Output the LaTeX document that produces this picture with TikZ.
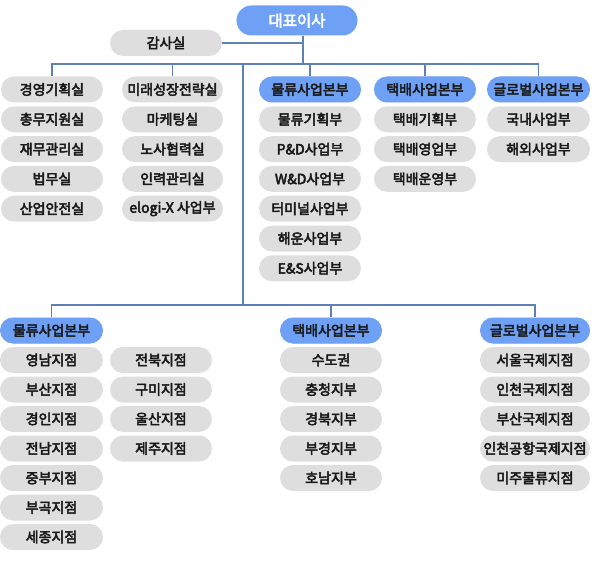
\documentclass[tikz,border=0pt]{standalone}
\usepackage{fontspec}
\setmainfont{Noto Sans CJK KR}[BoldFont={Noto Sans CJK KR}, BoldFeatures={FakeBold=3.5}]
\usetikzlibrary{shapes.misc}
\definecolor{hblue}{RGB}{110,160,245}
\definecolor{bgray}{RGB}{222,222,222}
\definecolor{lineblue}{RGB}{95,128,180}
\definecolor{txt}{RGB}{25,25,25}
\tikzset{
  box/.style={rounded rectangle, fill=bgray, minimum height=26pt, inner sep=0pt, text=txt, font=\bfseries\fontsize{14}{14}\selectfont},
  head/.style={box, fill=hblue},
  ceobox/.style={box, fill=hblue, text=white, minimum width=121pt, minimum height=30pt, font=\bfseries\fontsize{15.5}{15.5}\selectfont},
  conn/.style={draw=lineblue, line width=1.1pt},
}
\begin{document}
\begin{tikzpicture}[x=1pt,y=-1pt]
\useasboundingbox (0,0) rectangle (596,561);
% top
\node[ceobox] (ceo) at (297,20.5) {대표이사};
\node[box, minimum width=112pt] (gam) at (166,43) {감사실};
% columns top
\def\dy{29.8}
\foreach \t [count=\i from 0] in {경영기획실,총무지원실,재무관리실,법무실,산업안전실}
  \node[box, minimum width=102pt] (a\i) at (52,89.5+\i*\dy) {\t};
\foreach \t [count=\i from 0] in {미래성장전략실,마케팅실,노사협력실,인력관리실,elogi-X 사업부}
  \node[box, minimum width=101pt] (b\i) at (172.5,89.5+\i*\dy) {\t};
\foreach \t [count=\i from 0] in {물류사업본부,물류기획부,P\&D사업부,W\&D사업부,터미널사업부,해운사업부,E\&S사업부}
  \node[box, minimum width=102pt] (c\i) at (310,89.5+\i*\dy) {\t};
\foreach \t [count=\i from 0] in {택배사업본부,택배기획부,택배영업부,택배운영부}
  \node[box, minimum width=102pt] (d\i) at (425,89.5+\i*\dy) {\t};
\foreach \t [count=\i from 0] in {글로벌사업본부,국내사업부,해외사업부}
  \node[box, minimum width=103pt] (e\i) at (538.5,89.5+\i*\dy) {\t};
\node[head, minimum width=102pt] at (c0) {물류사업본부};
\node[head, minimum width=102pt] at (d0) {택배사업본부};
\node[head, minimum width=103pt] at (e0) {글로벌사업본부};
% bottom
\def\by{29.5}
\foreach \t [count=\i from 0] in {물류사업본부,영남지점,부산지점,경인지점,전남지점,중부지점,부곡지점,세종지점}
  \node[box, minimum width=103pt] (f\i) at (51.5,330.5+\i*\by) {\t};
\foreach \t [count=\i from 1] in {전북지점,구미지점,울산지점,제주지점}
  \node[box, minimum width=102pt] (g\i) at (161,330.5+\i*\by) {\t};
\foreach \t [count=\i from 0] in {택배사업본부,수도권,충청지부,경북지부,부경지부,호남지부}
  \node[box, minimum width=102pt] (h\i) at (331,330.5+\i*\by) {\t};
\foreach \t [count=\i from 0] in {글로벌사업본부,서울국제지점,인천국제지점,부산국제지점,인천공항국제지점,미주물류지점}
  \node[box, minimum width=110pt] (k\i) at (535,330.5+\i*\by) {\t};
\node[head, minimum width=103pt] at (f0) {물류사업본부};
\node[head, minimum width=102pt] at (h0) {택배사업본부};
\node[head, minimum width=110pt] at (k0) {글로벌사업본부};
% connectors
\coordinate (t) at (303,64);
\coordinate (b) at (243,305);
\draw[conn] (ceo.south -| t) -- (t);
\draw[conn] (gam.east) -- (gam.east -| t);
\draw[conn] (a0.north) |- (t);
\draw[conn] (b0.north) |- (t);
\draw[conn] (c0.north) |- (t);
\draw[conn] (d0.north) |- (t);
\draw[conn] (e0.north) |- (t);
\draw[conn] (b |- t) -- (b);
\draw[conn] (f0.north) |- (b);
\draw[conn] (h0.north) |- (b);
\draw[conn] (k0.north) |- (b);
\end{tikzpicture}
\end{document}
